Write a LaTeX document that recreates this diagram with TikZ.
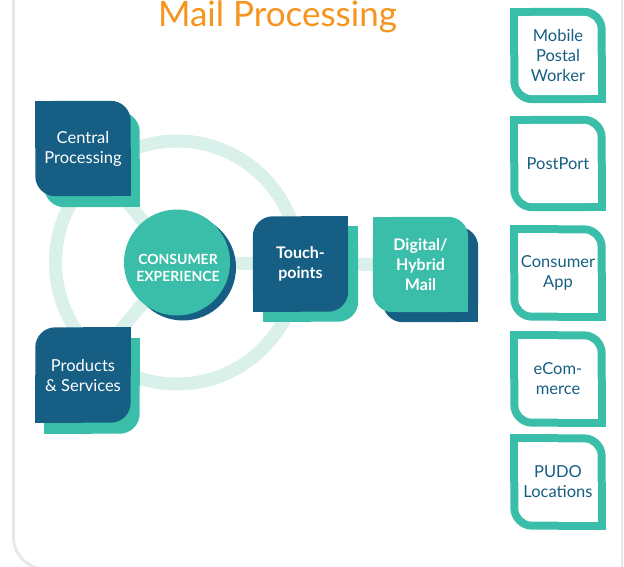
\documentclass[tikz,border=0pt]{standalone}
\usepackage{fontspec}
\setmainfont{Lato}
\usepackage{tikz}
\usetikzlibrary{calc}
\usetikzlibrary{positioning}
\definecolor{navy}{RGB}{22, 94, 131}
\definecolor{teal}{RGB}{59, 190, 169}
\definecolor{mint}{RGB}{218, 240, 234}
\definecolor{tangerine}{RGB}{247, 148, 29}
\definecolor{cloud}{RGB}{232, 232, 232}
\pgfdeclarelayer{background}
\pgfsetlayers{background,main}
% leaf with rounded top right and bottom left corners
\newcommand{\leafTR}[4]{%
    \coordinate (lfa) at ([shift={(#2,#2)}]#1.north west);
    \coordinate (lfb) at ([shift={(-#2,-#2)}]#1.south east);
    \fill[#3, rounded corners=#4] (lfa) rectangle (lfb);
    \fill[#3] (lfa) rectangle (#1.center);
    \fill[#3] (#1.center) rectangle (lfb);}
% leaf with rounded top left and bottom right corners
\newcommand{\leafTL}[4]{%
    \coordinate (lfa) at ([shift={(#2,#2)}]#1.north west);
    \coordinate (lfb) at ([shift={(-#2,-#2)}]#1.south east);
    \fill[#3, rounded corners=#4] (lfa) rectangle (lfb);
    \fill[#3] (lfa -| lfb) rectangle (#1.center);
    \fill[#3] (#1.center) rectangle (lfa |- lfb);}
\tikzset{
    leaf/.style={minimum width=95pt, minimum height=95pt, inner sep=0pt, align=center,
                 font=\fontsize{16.5pt}{20pt}\selectfont},
    solid leaf/.style={leaf, text=white},
    bold leaf/.style={leaf, text=white, font=\bfseries\fontsize{16pt}{20pt}\selectfont},
    open leaf/.style={leaf, text=navy},
    spoke/.style={mint, line width=13pt},
}

\begin{document}
\begin{tikzpicture}[x=1pt, y=-1pt]
            \useasboundingbox (0, 0) rectangle (624, 567);
            % Frame
            \draw[cloud, line width=3pt, rounded corners=32pt] (13.5, -20) -- (13.5, 569) -- (640, 569);
            \draw[cloud, line width=2pt]                        (622, -20) -- (622, 570);
            % Title
            \node[anchor=base, text=tangerine, font=\fontsize{35pt}{40pt}\selectfont] (title) at (277.5, 26.5) {Mail Processing};
            % Hub
            \node[circle, minimum size=106pt, inner sep=0pt] (ce) at (177, 262.5) {};
            \node[text=white, align=center, font=\bfseries\fontsize{14pt}{17pt}\selectfont] (ceT) at (178, 267.5) {CONSUMER\\EXPERIENCE};
            \node[solid leaf] (cp) at ( 83.0, 148.5) {Central\\Processing};
            \node[solid leaf] (ps) at ( 83.0, 375.0) {Products\\\& Services};
            \node[bold leaf]  (tp) at (300.5, 264.0) {Touch-\\points};
            \node[bold leaf]  (dh) at (420.5, 264.5) {Digital/\\Hybrid\\Mail};
            % Shadows
            \node[leaf] (cpS) at ([shift={( 9, 11)}]cp.center) {};
            \node[leaf] (psS) at ([shift={( 9, 11)}]ps.center) {};
            \node[leaf] (tpS) at ([shift={(10, 10)}]tp.center) {};
            \node[leaf] (dhS) at ([shift={(10, 10)}]dh.center) {};
            % Channels
            \node[open leaf] (mpw)  at (558,  55.5) {Mobile\\Postal\\Worker};
            \node[open leaf] (pp)   at (558, 163.5) {PostPort};
            \node[open leaf] (ca)   at (558, 273.0) {Consumer\\App};
            \node[open leaf] (ec)   at (558, 379.0) {eCom-\\merce};
            \node[open leaf] (pudo) at (558, 482.0) {PUDO\\Locations};
            \begin{pgfonlayer}{background}
                % Ring & spokes
                \draw[spoke] (ce.center) circle (121.5pt);
                \draw[spoke] (ce.center) -- (cp.center);
                \draw[spoke] (ce.center) -- (ps.center);
                \draw[spoke] (ce.center) -- (tp.center) -- (dh.center);
                % Hub circle
                \fill[navy] ([shift={(6, 5)}]ce.center) circle (53pt);
                \fill[teal] (ce.center) circle (53pt);
                % Boxes
                \leafTR{cpS}{0}{teal}{20pt}
                \leafTR{cp}{0}{navy}{20pt}
                \leafTL{psS}{0}{teal}{20pt}
                \leafTL{ps}{0}{navy}{20pt}
                \leafTL{tpS}{0}{teal}{20pt}
                \leafTL{tp}{0}{navy}{20pt}
                \leafTR{dhS}{0}{navy}{20pt}
                \leafTR{dh}{0}{teal}{20pt}
                % Outlined channel boxes
                \foreach \ch in {mpw, pp, ca, ec, pudo} {
                    \leafTR{\ch}{0}{teal}{22pt}
                    \leafTR{\ch}{8}{white}{14pt}
                }
            \end{pgfonlayer}
        \end{tikzpicture}
\end{document}
